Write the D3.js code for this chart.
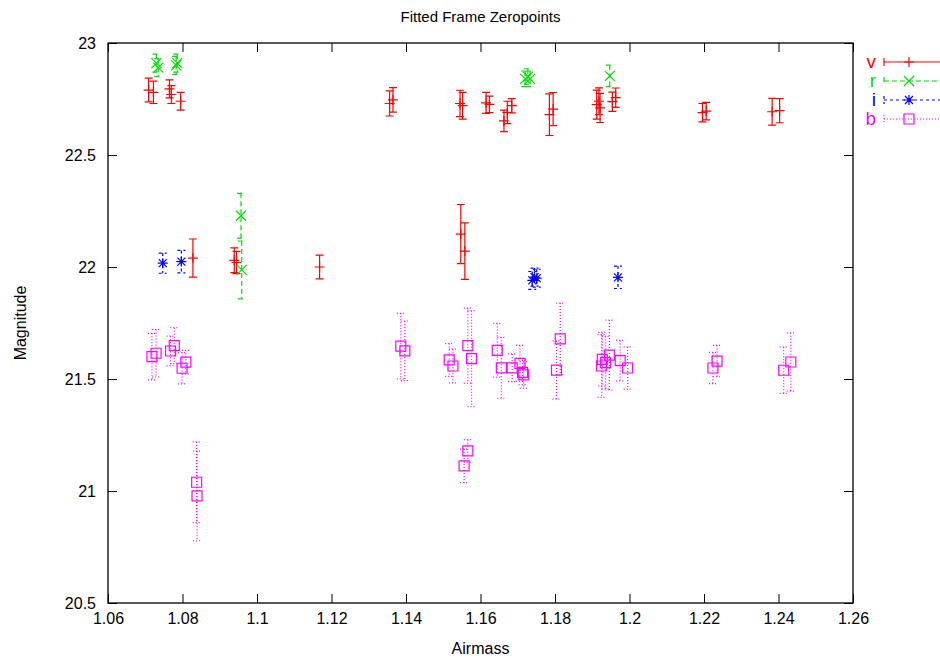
<!DOCTYPE html>
<html><head><meta charset="utf-8">
<script src="https://cdn.jsdelivr.net/npm/d3@7"></script>
<style>body{margin:0;background:#fff}svg{display:block}text{font-family:"Liberation Sans",Arial,Helvetica,sans-serif}</style>
</head><body><div id="chart"></div>
<script>
const title = "Fitted Frame Zeropoints";
const xTicks = [1.06,1.08,1.1,1.12,1.14,1.16,1.18,1.2,1.22,1.24,1.26];
const yTicks = [20.5,21,21.5,22,22.5,23];

const vAir = [1.0709,1.0722,1.0765,1.0770,1.0795,1.0828,1.0939,1.0945,1.1168,1.1356,1.1365,1.1545,1.1552,1.1547,1.1558,1.1615,1.1624,1.1663,1.1672,1.1684,1.1785,1.1795,1.1912,1.1918,1.1921,1.1954,1.1963,1.2196,1.2206,1.2383,1.2403];
const vMag = [22.79,22.78,22.795,22.77,22.74,22.04,22.03,22.02,22.00,22.73,22.746,22.73,22.72,22.147,22.071,22.733,22.726,22.652,22.69,22.72,22.68,22.705,22.725,22.74,22.71,22.738,22.756,22.689,22.696,22.693,22.698];
const vErr = [0.053,0.05,0.04,0.04,0.04,0.085,0.055,0.05,0.053,0.056,0.055,0.059,0.06,0.132,0.126,0.047,0.037,0.048,0.05,0.032,0.093,0.074,0.065,0.06,0.065,0.043,0.043,0.041,0.039,0.06,0.054];

const rAir = [1.0730,1.0735,1.0783,1.0786,1.0957,1.0959,1.1720,1.1727,1.1733,1.1947];
const rMag = [22.91,22.89,22.90,22.91,22.229,21.987,22.84,22.85,22.84,22.853];
const rErr = [0.04,0.04,0.04,0.04,0.1,0.129,0.035,0.035,0.035,0.048];

const iAir = [1.0747,1.0797,1.1739,1.1745,1.1751,1.1969];
const iMag = [22.017,22.024,21.94,21.955,21.95,21.954];
const iErr = [0.045,0.05,0.04,0.04,0.04,0.05];

const bAir = [1.0718,1.0729,1.0768,1.0778,1.0799,1.0809,1.0838,1.0839,1.1386,1.1397,1.1516,1.1526,1.1566,1.1576,1.1566,1.1556,1.1645,1.1656,1.1685,1.1706,1.1713,1.1716,1.1814,1.1804,1.1925,1.1927,1.1936,1.1946,1.1975,1.1995,1.2224,1.2235,1.2414,1.2433];
const bMag = [21.60,21.615,21.625,21.649,21.548,21.575,21.039,20.978,21.647,21.626,21.585,21.558,21.649,21.591,21.179,21.112,21.628,21.55,21.55,21.57,21.53,21.518,21.679,21.54,21.558,21.588,21.573,21.607,21.582,21.549,21.549,21.58,21.539,21.576];
const bErr = [0.104,0.106,0.066,0.08,0.07,0.053,0.18,0.2,0.146,0.133,0.073,0.075,0.167,0.214,0.05,0.075,0.12,0.136,0.062,0.08,0.055,0.06,0.16,0.13,0.14,0.12,0.117,0.156,0.09,0.094,0.07,0.07,0.103,0.13];

const seriesNames = ["v","r","i","b"];
const seriesColors = ["#ff0000","#00dd00","#0000ff","#ff00ff"];
const seriesDash = [null,"5,3","3,3","1,2"];
const seriesMarker = ["plus","cross","star","square"];
const seriesData = [[vAir,vMag,vErr],[rAir,rMag,rErr],[iAir,iMag,iErr],[bAir,bMag,bErr]];

const W=940,H=659;
const M={left:108,right:853,top:43,bottom:603};
const svg=d3.select("#chart").append("svg").attr("width",W).attr("height",H);
const x=d3.scaleLinear().domain([1.06,1.26]).range([M.left,M.right]);
const y=d3.scaleLinear().domain([20.5,23]).range([M.bottom,M.top]);

// axes
const tl=9;
const ax=svg.append("g").attr("class","axes");
ax.append("g").attr("transform",`translate(0,${M.bottom})`).call(d3.axisBottom(x).tickValues(xTicks).tickFormat(d3.format("")).tickSizeInner(-tl).tickSizeOuter(0).tickPadding(10));
ax.append("g").attr("transform",`translate(0,${M.top})`).call(d3.axisTop(x).tickValues(xTicks).tickFormat("").tickSizeInner(-tl).tickSizeOuter(0));
ax.append("g").attr("transform",`translate(${M.left},0)`).call(d3.axisLeft(y).tickValues(yTicks).tickFormat(d3.format("")).tickSizeInner(-tl).tickSizeOuter(0).tickPadding(12));
ax.append("g").attr("transform",`translate(${M.right},0)`).call(d3.axisRight(y).tickValues(yTicks).tickFormat("").tickSizeInner(-tl).tickSizeOuter(0));
ax.selectAll(".domain").remove();
ax.selectAll("line").attr("stroke","#000");
ax.selectAll("text").attr("font-size",16).attr("fill","#000");
svg.append("rect").attr("x",M.left).attr("y",M.top).attr("width",M.right-M.left).attr("height",M.bottom-M.top).attr("fill","none").attr("stroke","#000").attr("stroke-width",1.3);

svg.append("text").attr("x",(M.left+M.right)/2).attr("y",22).attr("text-anchor","middle").attr("font-size",15).text(title);
svg.append("text").attr("x",(M.left+M.right)/2).attr("y",654).attr("text-anchor","middle").attr("font-size",16).text("Airmass");
svg.append("text").attr("transform",`translate(26,${(M.top+M.bottom)/2}) rotate(-90)`).attr("text-anchor","middle").attr("font-size",16).text("Magnitude");

function marker(g,type,cx,cy,color){
  const s=5;
  const p=g.append("path").attr("fill","none").attr("stroke",color).attr("stroke-width",1.2);
  if(type==="plus") p.attr("d",`M${cx-s},${cy}H${cx+s}M${cx},${cy-s}V${cy+s}`);
  else if(type==="cross") p.attr("d",`M${cx-s},${cy-s}L${cx+s},${cy+s}M${cx-s},${cy+s}L${cx+s},${cy-s}`);
  else if(type==="star") p.attr("d",`M${cx-s},${cy}H${cx+s}M${cx},${cy-s}V${cy+s}M${cx-s*0.8},${cy-s*0.8}L${cx+s*0.8},${cy+s*0.8}M${cx-s*0.8},${cy+s*0.8}L${cx+s*0.8},${cy-s*0.8}`);
  else p.attr("d",`M${cx-s},${cy-s}H${cx+s}V${cy+s}H${cx-s}Z`);
}

const cap=4;
seriesData.forEach((sd,k)=>{
  const g=svg.append("g");
  const col=seriesColors[k];
  const [xs,ys,es]=sd;
  xs.forEach((xv,i)=>{
    const cx=x(xv), y1=y(ys[i]+es[i]), y2=y(ys[i]-es[i]);
    g.append("path").attr("d",`M${cx},${y1}V${y2}M${cx-cap},${y1}H${cx+cap}M${cx-cap},${y2}H${cx+cap}`)
      .attr("fill","none").attr("stroke",col).attr("stroke-width",1.2).attr("stroke-dasharray",seriesDash[k]);
    marker(g,seriesMarker[k],cx,y(ys[i]),col);
  });
  // legend
  const ly=62+k*19;
  svg.append("text").attr("x",876).attr("y",ly+6).attr("text-anchor","end").attr("font-size",19).attr("fill",col).text(seriesNames[k]);
  svg.append("path").attr("d",`M884,${ly}H945M884,${ly-cap}V${ly+cap}`).attr("fill","none").attr("stroke",col).attr("stroke-width",1.2).attr("stroke-dasharray",seriesDash[k]);
  marker(svg,seriesMarker[k],909,ly,col);
});
</script></body></html>
